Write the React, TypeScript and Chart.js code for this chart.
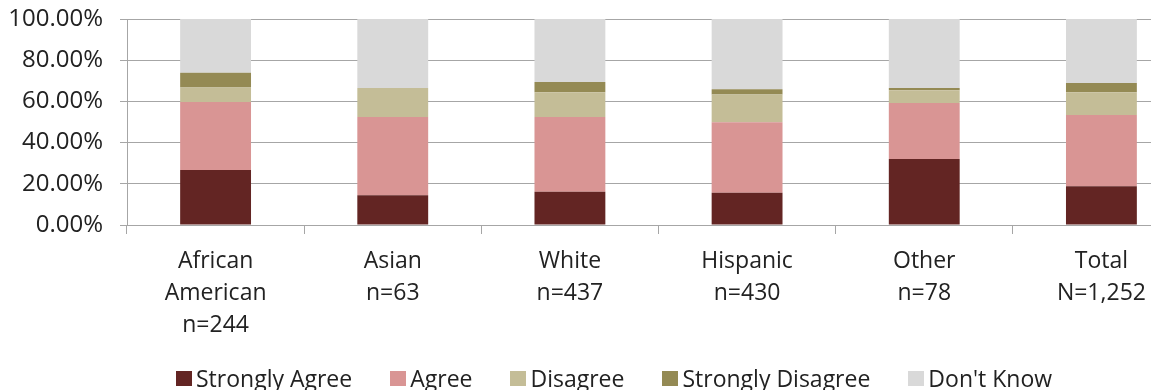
import React, { useEffect, useRef } from "react";
import { Chart, registerables } from "chart.js";

Chart.register(...registerables);

const categories: string[][] = [
  ["African", "American", "n=244"],
  ["Asian", "n=63"],
  ["White", "n=437"],
  ["Hispanic", "n=430"],
  ["Other", "n=78"],
  ["Total", "N=1,252"],
];

const seriesNames = ["Strongly Agree", "Agree", "Disagree", "Strongly Disagree", "Don't Know"];
const stronglyAgree = [26.7, 14.4, 16.2, 15.7, 32.0, 18.8];
const agree = [33.0, 38.0, 36.2, 34.2, 27.2, 34.6];
const disagree = [7.1, 14.1, 12.0, 13.4, 6.2, 11.0];
const stronglyDisagree = [7.1, 0, 5.0, 2.6, 1.1, 4.5];
const dontKnow = [26.1, 33.5, 30.6, 34.1, 33.5, 31.1];
const colors = ["#632523", "#D99594", "#C4BD97", "#948A54", "#D9D9D9"];
const yTicks = [0, 20, 40, 60, 80, 100];

const FONT = "'Open Sans', sans-serif";

export default function App() {
  const ref = useRef<HTMLCanvasElement | null>(null);
  useEffect(() => {
    if (!ref.current) return;
    const values = [stronglyAgree, agree, disagree, stronglyDisagree, dontKnow];
    const chart = new Chart(ref.current, {
      type: "bar",
      data: {
        labels: categories,
        datasets: seriesNames.map((name, i) => ({
          label: name,
          data: values[i],
          backgroundColor: colors[i],
          borderWidth: 0,
          categoryPercentage: 1,
          barPercentage: 0.4,
        })),
      },
      options: {
        responsive: false,
        animation: false,
        layout: { padding: { top: 19, right: 10, left: 0, bottom: 0 } },
        plugins: { legend: { display: false }, tooltip: { enabled: false } },
        scales: {
          x: {
            stacked: true,
            grid: {
              offset: true,
              drawOnChartArea: false,
              tickLength: 9,
              color: "#A6A6A6",
            },
            border: { color: "#A6A6A6" },
            ticks: {
              color: "#222",
              font: { family: FONT, size: 23, lineHeight: 1.38 },
              padding: 12,
              maxRotation: 0,
              autoSkip: false,
            },
            afterFit: (s: any) => {
              s.height = 165;
              s.paddingLeft = 0;
              s.paddingRight = 0;
            },
          },
          y: {
            stacked: true,
            min: 0,
            max: 100,
            afterBuildTicks: (s: any) => {
              s.ticks = yTicks.map((v) => ({ value: v }));
            },
            grid: { color: "#A6A6A6", tickLength: 7 },
            border: { color: "#A6A6A6" },
            ticks: {
              color: "#222",
              font: { family: FONT, size: 24 },
              padding: 17,
              callback: (v: any) => Number(v).toFixed(2) + "%",
            },
            afterFit: (s: any) => {
              s.width = 127;
              s.paddingTop = 0;
              s.paddingBottom = 0;
            },
          },
        },
      },
    });
    return () => chart.destroy();
  }, []);

  return (
    <div style={{ position: "absolute", left: 0, top: 0, width: 1151, height: 390, overflow: "hidden", background: "#fff" }}>
      <canvas ref={ref} width={1200} height={390} style={{ position: "absolute", left: 0, top: 0 }} />
      <div
        style={{
          position: "absolute",
          left: 176,
          top: 363,
          display: "flex",
          alignItems: "center",
          fontFamily: FONT,
          fontSize: 23,
          color: "#222",
          whiteSpace: "nowrap",
          lineHeight: "30px",
        }}
      >
        {seriesNames.map((name, i) => (
          <div key={name} style={{ display: "flex", alignItems: "center", marginRight: 38 }}>
            <span style={{ display: "inline-block", width: 16, height: 15, background: colors[i], marginRight: 4 }} />
            <span>{name}</span>
          </div>
        ))}
      </div>
    </div>
  );
}
